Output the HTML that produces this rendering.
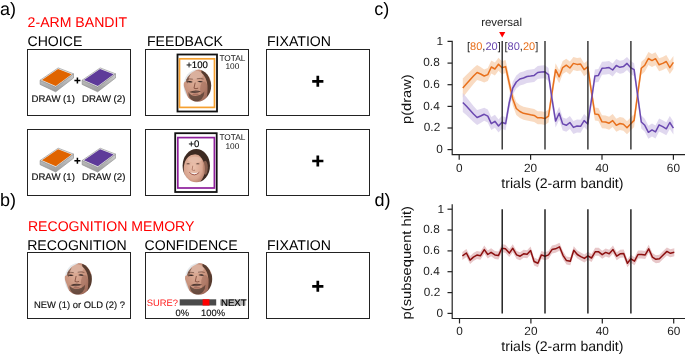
<!DOCTYPE html>
<html><head><meta charset="utf-8"><style>
html,body{margin:0;padding:0;background:#fff;width:685px;height:355px;overflow:hidden}
svg{display:block;will-change:transform}
</style></head><body>
<svg width="685" height="355" viewBox="0 0 685 355" font-family='"Liberation Sans", sans-serif' text-rendering="geometricPrecision">
<defs>
<radialGradient id="skinm" cx="0.5" cy="0.45" r="0.6"><stop offset="0" stop-color="#d9a486"/><stop offset="0.7" stop-color="#b98064"/><stop offset="1" stop-color="#8d5d48"/></radialGradient>
<radialGradient id="skinw" cx="0.5" cy="0.45" r="0.6"><stop offset="0" stop-color="#e8b8a0"/><stop offset="0.8" stop-color="#cf9478"/><stop offset="1" stop-color="#a86d55"/></radialGradient>
<clipPath id="mclip"><ellipse cx="0" cy="0" rx="13.8" ry="16.2"/></clipPath>
<filter id="fb" x="-20%" y="-20%" width="140%" height="140%"><feGaussianBlur stdDeviation="0.75"/></filter>
<radialGradient id="mskin" cx="0.4" cy="0.4" r="0.65"><stop offset="0" stop-color="#dcac96"/><stop offset="0.6" stop-color="#c6907a"/><stop offset="1" stop-color="#946050"/></radialGradient>
<g id="manface"><g clip-path="url(#mclip)"><g filter="url(#fb)">
<rect x="-15" y="-17" width="30" height="34" fill="url(#mskin)"/>
<ellipse cx="-3" cy="-10.5" rx="8.5" ry="4.5" fill="#dcb4a2" opacity="0.85"/>
<path d="M-15,-17 L2,-17 Q-2,-15.2 -6,-12.8 Q-10,-9.5 -11.6,-4 L-15,-2 Z" fill="#e4e7ea"/>
<path d="M-15,-3 Q-11.8,5 -8,16 L-15,17 Z" fill="#dde1e5"/>
<path d="M4,-16 Q11,-13 12.5,-5 L15,-5 L15,17 L8.5,17 Q10.5,8 10,0 Q9.5,-8 4,-13 Z" fill="#563a2e"/>
<path d="M-11.8,-4 Q-10.5,-9 -6.5,-12.2 Q-9,-8 -9.6,-2 Z" fill="#7a5848" opacity="0.8"/>
<ellipse cx="6.5" cy="3.5" rx="3.8" ry="7.5" fill="#9a6656" opacity="0.5"/>
<path d="M-11,-6.2 Q-8,-7.2 -4.6,-6.4 M-0.6,-6.8 Q3,-7.8 6.2,-6.5" stroke="#5a3a30" stroke-width="1" fill="none" opacity="0.6"/>
<path d="M-10.6,-3.8 Q-7.6,-5.3 -4.6,-3.6 Q-7.6,-2.4 -10.6,-3.8 Z" fill="#2e2220"/>
<path d="M-0.2,-4 Q2.8,-5.5 5.6,-3.8 Q2.8,-2.6 -0.2,-4 Z" fill="#2e2220"/>
<path d="M-2.2,-3 L-3.4,2.6 Q-1.5,3.6 0.8,2.6" stroke="#8a5646" stroke-width="1" fill="none"/>
<path d="M-8.2,6.4 Q-2,3.6 3.6,6 Q-2,8.6 -8.2,6.4 Z" fill="#3a2822" opacity="0.85"/>
<path d="M-6,6.4 Q-2,5.4 2,6.2 Q-2,7.2 -6,6.4 Z" fill="#8a6a60"/>
<path d="M-9,6.5 Q-9.5,13.5 -2,16.5 Q6.5,15 7,6 Q3,10.4 -2,10.4 Q-6.5,10.4 -9,6.5 Z" fill="#4e3a30" opacity="0.72"/>
<ellipse cx="-1.8" cy="8.8" rx="3.2" ry="0.9" fill="#a87060"/>
</g></g></g>
<clipPath id="wclip"><ellipse cx="0" cy="0" rx="13.7" ry="16.6"/></clipPath>
<radialGradient id="wskin" cx="0.45" cy="0.42" r="0.6"><stop offset="0" stop-color="#ecc2ae"/><stop offset="0.7" stop-color="#d9a690"/><stop offset="1" stop-color="#b47e6a"/></radialGradient>
<g id="womanface"><g clip-path="url(#wclip)"><g filter="url(#fb)">
<rect x="-15" y="-17" width="30" height="34" fill="#3e2a22"/>
<ellipse cx="-2" cy="3.4" rx="10.6" ry="15" fill="url(#wskin)"/>
<path d="M-13,-2 Q-10,-11 -1,-11.5 Q8,-11.5 11,-4 L12,-17 L-13,-17 Z" fill="#3e2a22"/>
<ellipse cx="-1.5" cy="-6" rx="7" ry="3" fill="#e8c0ae" opacity="0.7"/>
<path d="M-10.2,-1.8 Q-8.2,-3 -6.2,-1.8 Q-8.2,-0.9 -10.2,-1.8 Z" fill="#4a302a"/>
<path d="M-0.5,-1.8 Q1.5,-3 3.5,-1.8 Q1.5,-0.9 -0.5,-1.8 Z" fill="#4a302a"/>
<path d="M-3.5,0 L-4.2,4.2 Q-2.8,5.2 -1.2,4.5" stroke="#b07a68" stroke-width="0.9" fill="none"/>
<path d="M-7,6.6 Q-2,11.5 3,6.6 Q-2,8 -7,6.6 Z" fill="#f6f2f0"/>
<path d="M-7,6.6 Q-2,11.8 3,6.6" stroke="#a0584c" stroke-width="1" fill="none"/>
<ellipse cx="9" cy="2" rx="2.5" ry="7" fill="#b8806a" opacity="0.6"/>
</g></g></g>
<linearGradient id="sidegrad" x1="0" y1="0" x2="0" y2="1"><stop offset="0" stop-color="#cfcfcf"/><stop offset="1" stop-color="#9a9a9a"/></linearGradient>
</defs>
<rect width="685" height="355" fill="#fff"/>
<text x="0" y="15.2" font-size="18">a)</text>
<text x="0" y="205.6" font-size="18">b)</text>
<text x="374.2" y="15" font-size="18">c)</text>
<text x="374.5" y="206" font-size="18">d)</text>
<text x="27.6" y="27.2" font-size="14.1" fill="#ff0000">2-ARM BANDIT</text>
<text x="27.9" y="230.6" font-size="14.1" fill="#ff0000">RECOGNITION MEMORY</text>
<text x="27.5" y="45.8" font-size="14.1">CHOICE</text>
<text x="147" y="45.8" font-size="14.1">FEEDBACK</text>
<text x="267" y="45.8" font-size="14.1">FIXATION</text>
<text x="27.2" y="250.3" font-size="14.1">RECOGNITION</text>
<text x="144.5" y="250.3" font-size="14.1">CONFIDENCE</text>
<text x="267" y="250.3" font-size="14.1">FIXATION</text>
<rect x="27.5" y="49.5" width="103" height="66" fill="none" stroke="#222" stroke-width="1"/>
<rect x="27.5" y="129.5" width="103" height="66" fill="none" stroke="#222" stroke-width="1"/>
<rect x="27.5" y="252.5" width="103" height="66" fill="none" stroke="#222" stroke-width="1"/>
<rect x="145.5" y="49.5" width="103" height="66" fill="none" stroke="#222" stroke-width="1"/>
<rect x="145.5" y="129.5" width="103" height="66" fill="none" stroke="#222" stroke-width="1"/>
<rect x="145.5" y="252.5" width="103" height="66" fill="none" stroke="#222" stroke-width="1"/>
<rect x="266.5" y="49.5" width="103" height="66" fill="none" stroke="#222" stroke-width="1"/>
<rect x="266.5" y="129.5" width="103" height="66" fill="none" stroke="#222" stroke-width="1"/>
<rect x="266.5" y="252.5" width="103" height="66" fill="none" stroke="#222" stroke-width="1"/>
<path d="M312.2,81.3 h11.2 M317.8,75.8 v11" stroke="#000" stroke-width="2.7"/>
<path d="M312.2,161.0 h11.2 M317.8,155.5 v11" stroke="#000" stroke-width="2.7"/>
<path d="M312.2,286.3 h11.2 M317.8,280.8 v11" stroke="#000" stroke-width="2.7"/>
<path d="M40.1,80.2 L55.7,87.10000000000001 L73.5,73.8 L73.5,78.0 L55.7,91.80000000000001 L40.1,84.4 Z" fill="url(#sidegrad)" stroke="#8a8a8a" stroke-width="0.6"/>
<path d="M40.1,80.2 L58.2,67.9 L73.5,73.8 L55.7,87.10000000000001 Z" fill="#ececec" stroke="#8a8a8a" stroke-width="0.6"/>
<path d="M41.95,79.88 L58.05,68.93 L71.67,74.18 L55.83,86.02 Z" fill="#e06400"/>
<path d="M82.1,80.2 L97.69999999999999,87.10000000000001 L115.5,73.8 L115.5,78.0 L97.69999999999999,91.80000000000001 L82.1,84.4 Z" fill="url(#sidegrad)" stroke="#8a8a8a" stroke-width="0.6"/>
<path d="M82.1,80.2 L100.19999999999999,67.9 L115.5,73.8 L97.69999999999999,87.10000000000001 Z" fill="#ececec" stroke="#8a8a8a" stroke-width="0.6"/>
<path d="M83.95,79.88 L100.05,68.93 L113.67,74.18 L97.83,86.02 Z" fill="#5e3b99"/>
<path d="M74.4,80.4 h6 M77.4,77.4 v6" stroke="#000" stroke-width="1.5"/>
<path d="M40.1,160.5 L55.7,167.4 L73.5,154.1 L73.5,158.29999999999998 L55.7,172.1 L40.1,164.7 Z" fill="url(#sidegrad)" stroke="#8a8a8a" stroke-width="0.6"/>
<path d="M40.1,160.5 L58.2,148.2 L73.5,154.1 L55.7,167.4 Z" fill="#ececec" stroke="#8a8a8a" stroke-width="0.6"/>
<path d="M41.95,160.18 L58.05,149.23 L71.67,154.48 L55.83,166.32 Z" fill="#e06400"/>
<path d="M82.1,160.5 L97.69999999999999,167.4 L115.5,154.1 L115.5,158.29999999999998 L97.69999999999999,172.1 L82.1,164.7 Z" fill="url(#sidegrad)" stroke="#8a8a8a" stroke-width="0.6"/>
<path d="M82.1,160.5 L100.19999999999999,148.2 L115.5,154.1 L97.69999999999999,167.4 Z" fill="#ececec" stroke="#8a8a8a" stroke-width="0.6"/>
<path d="M83.95,160.18 L100.05,149.23 L113.67,154.48 L97.83,166.32 Z" fill="#5e3b99"/>
<path d="M74.4,160.7 h6 M77.4,157.7 v6" stroke="#000" stroke-width="1.5"/>
<text x="31.5" y="102" font-size="9.6" fill="#111" stroke="#111" stroke-width="0.18">DRAW (1)</text>
<text x="82" y="102" font-size="9.6" fill="#111" stroke="#111" stroke-width="0.18">DRAW (2)</text>
<text x="31.5" y="180" font-size="9.6" fill="#111" stroke="#111" stroke-width="0.18">DRAW (1)</text>
<text x="82" y="180" font-size="9.6" fill="#111" stroke="#111" stroke-width="0.18">DRAW (2)</text>
<rect x="177.5" y="54.5" width="39.5" height="57" fill="#fff" stroke="#111" stroke-width="1.8"/>
<rect x="179.5" y="58.8" width="35" height="48.6" fill="none" stroke="#f5a030" stroke-width="1.7"/>
<text x="197" y="67.6" font-size="9.6" text-anchor="middle" stroke="#000" stroke-width="0.15">+100</text>
<use href="#manface" transform="translate(197.4,85.6) scale(1.0,1.0)"/>
<rect x="175.2" y="133.2" width="41.5" height="58.8" fill="#fff" stroke="#111" stroke-width="1.8"/>
<rect x="177.8" y="137.6" width="36.6" height="50.4" fill="none" stroke="#8e1f9c" stroke-width="1.7"/>
<text x="194" y="147" font-size="9.6" text-anchor="middle" stroke="#000" stroke-width="0.15">+0</text>
<use href="#womanface" transform="translate(196.3,165.7) scale(1.0,1.0)"/>
<text x="232.4" y="60.6" font-size="8.3" text-anchor="middle" fill="#111">TOTAL</text>
<text x="232.4" y="69.4" font-size="8.3" text-anchor="middle" fill="#111">100</text>
<text x="232.4" y="140.4" font-size="8.3" text-anchor="middle" fill="#111">TOTAL</text>
<text x="232.4" y="149.2" font-size="8.3" text-anchor="middle" fill="#111">100</text>
<use href="#manface" transform="translate(78.3,278.9) scale(0.985,0.98)"/>
<text x="34" y="308.3" font-size="9.42" fill="#111" stroke="#111" stroke-width="0.15">NEW (1) or OLD (2) ?</text>
<use href="#manface" transform="translate(198.6,278.9) scale(0.985,0.98)"/>
<text x="146.8" y="305.6" font-size="9.4" fill="#ff1a1a">SURE?</text>
<rect x="179.7" y="299.3" width="36.5" height="6.2" fill="#4a4a4a"/>
<rect x="202.6" y="299.3" width="6.8" height="6.2" fill="#ff0000"/>
<rect x="220" y="299.3" width="25.6" height="6.2" fill="#b8b8b8"/>
<text x="221" y="305.6" font-size="9.6" fill="#000" stroke="#000" stroke-width="0.2">NEXT</text>
<text x="175.5" y="316" font-size="9.4" fill="#111" stroke="#111" stroke-width="0.15">0%</text>
<text x="201" y="316" font-size="9.4" fill="#111" stroke="#111" stroke-width="0.15">100%</text>
<polygon points="462.8,78.5 466.3,75.0 469.9,71.5 473.5,68.0 477.1,65.0 480.6,67.0 484.2,69.5 487.8,68.1 491.3,60.5 494.9,62.5 498.5,57.7 502.0,61.3 505.6,60.1 509.2,76.5 512.8,92.5 516.3,102.0 519.9,105.0 523.5,106.8 527.0,107.5 530.6,108.3 534.2,108.9 537.7,111.3 541.3,111.3 544.9,112.1 548.5,109.6 552.0,86.5 555.6,63.2 559.2,70.3 562.7,61.1 566.3,58.7 569.9,61.5 573.4,56.9 577.0,57.9 580.6,57.6 584.1,63.2 587.7,60.4 591.3,84.5 594.9,107.5 598.4,107.9 602.0,115.3 605.6,115.5 609.1,116.7 612.7,114.1 616.3,118.8 619.9,117.0 623.4,117.8 627.0,121.2 630.6,117.4 634.1,113.9 637.7,87.5 641.3,61.8 644.8,58.7 648.4,52.0 652.0,54.1 655.5,52.2 659.1,58.3 662.7,56.9 666.3,55.0 669.8,61.1 673.4,55.9 673.4,68.9 669.8,74.1 666.3,68.0 662.7,69.9 659.1,71.3 655.5,65.2 652.0,67.1 648.4,65.0 644.8,71.7 641.3,74.8 637.7,100.5 634.1,126.9 630.6,130.4 627.0,134.2 623.4,130.8 619.9,130.0 616.3,131.8 612.7,127.1 609.1,129.7 605.6,128.5 602.0,128.3 598.4,120.9 594.9,120.5 591.3,97.5 587.7,73.4 584.1,76.2 580.6,70.6 577.0,70.9 573.4,69.9 569.9,74.5 566.3,71.7 562.7,74.1 559.2,83.3 555.6,76.2 552.0,99.5 548.5,122.6 544.9,125.1 541.3,124.3 537.7,124.3 534.2,121.9 530.6,121.3 527.0,120.5 523.5,119.8 519.9,118.0 516.3,115.0 512.8,105.5 509.2,89.5 505.6,73.1 502.0,74.3 498.5,70.7 494.9,75.5 491.3,73.5 487.8,81.1 484.2,82.5 480.6,81.0 477.1,80.0 473.5,84.0 469.9,88.5 466.3,93.0 462.8,97.5" fill="#f7cfae" opacity="0.75"/>
<polygon points="462.8,92.9 466.3,97.0 469.9,101.5 473.5,106.0 477.1,110.0 480.6,109.0 484.2,107.8 487.8,109.6 491.3,117.1 494.9,114.8 498.5,119.5 502.0,115.7 505.6,117.3 509.2,96.5 512.8,81.5 516.3,75.5 519.9,72.5 523.5,71.5 527.0,70.0 530.6,69.5 534.2,68.9 537.7,66.0 541.3,65.5 544.9,65.3 548.5,68.1 552.0,92.5 555.6,114.6 559.2,106.8 562.7,117.4 566.3,118.8 569.9,116.0 573.4,120.9 577.0,119.5 580.6,119.8 584.1,114.1 587.7,117.4 591.3,94.5 594.9,69.6 598.4,68.9 602.0,61.8 605.6,61.5 609.1,61.1 612.7,63.5 616.3,59.0 619.9,60.8 623.4,60.1 627.0,56.9 630.6,61.1 634.1,63.2 637.7,89.5 641.3,115.5 644.8,118.8 648.4,125.8 652.0,123.4 655.5,125.4 659.1,118.4 662.7,120.2 666.3,122.3 669.8,116.0 673.4,121.6 673.4,134.6 669.8,129.0 666.3,135.3 662.7,133.2 659.1,131.4 655.5,138.4 652.0,136.4 648.4,138.8 644.8,131.8 641.3,128.5 637.7,102.5 634.1,76.2 630.6,74.1 627.0,69.9 623.4,73.1 619.9,73.8 616.3,72.0 612.7,76.5 609.1,74.1 605.6,74.5 602.0,74.8 598.4,81.9 594.9,82.6 591.3,107.5 587.7,130.4 584.1,127.1 580.6,132.8 577.0,132.5 573.4,133.9 569.9,129.0 566.3,131.8 562.7,130.4 559.2,119.8 555.6,127.6 552.0,105.5 548.5,81.1 544.9,78.3 541.3,78.5 537.7,79.0 534.2,81.9 530.6,82.5 527.0,83.0 523.5,84.5 519.9,85.5 516.3,88.5 512.8,94.5 509.2,109.5 505.6,130.3 502.0,128.7 498.5,132.5 494.9,127.8 491.3,130.1 487.8,122.6 484.2,120.8 480.6,123.0 477.1,125.0 473.5,122.0 469.9,118.5 466.3,115.0 462.8,111.9" fill="#d6cbea" opacity="0.75"/>
<polyline points="462.8,88.0 466.3,84.0 469.9,80.0 473.5,76.0 477.1,72.5 480.6,74.0 484.2,76.0 487.8,74.6 491.3,67.0 494.9,69.0 498.5,64.2 502.0,67.8 505.6,66.6 509.2,83.0 512.8,99.0 516.3,108.5 519.9,111.5 523.5,113.3 527.0,114.0 530.6,114.8 534.2,115.4 537.7,117.8 541.3,117.8 544.9,118.6 548.5,116.1 552.0,93.0 555.6,69.7 559.2,76.8 562.7,67.6 566.3,65.2 569.9,68.0 573.4,63.4 577.0,64.4 580.6,64.1 584.1,69.7 587.7,66.9 591.3,91.0 594.9,114.0 598.4,114.4 602.0,121.8 605.6,122.0 609.1,123.2 612.7,120.6 616.3,125.3 619.9,123.5 623.4,124.3 627.0,127.7 630.6,123.9 634.1,120.4 637.7,94.0 641.3,68.3 644.8,65.2 648.4,58.5 652.0,60.6 655.5,58.7 659.1,64.8 662.7,63.4 666.3,61.5 669.8,67.6 673.4,62.4" fill="none" stroke="#e8701c" stroke-width="1.5" stroke-linejoin="round"/>
<polyline points="462.8,102.4 466.3,106.0 469.9,110.0 473.5,114.0 477.1,117.5 480.6,116.0 484.2,114.3 487.8,116.1 491.3,123.6 494.9,121.3 498.5,126.0 502.0,122.2 505.6,123.8 509.2,103.0 512.8,88.0 516.3,82.0 519.9,79.0 523.5,78.0 527.0,76.5 530.6,76.0 534.2,75.4 537.7,72.5 541.3,72.0 544.9,71.8 548.5,74.6 552.0,99.0 555.6,121.1 559.2,113.3 562.7,123.9 566.3,125.3 569.9,122.5 573.4,127.4 577.0,126.0 580.6,126.3 584.1,120.6 587.7,123.9 591.3,101.0 594.9,76.1 598.4,75.4 602.0,68.3 605.6,68.0 609.1,67.6 612.7,70.0 616.3,65.5 619.9,67.3 623.4,66.6 627.0,63.4 630.6,67.6 634.1,69.7 637.7,96.0 641.3,122.0 644.8,125.3 648.4,132.3 652.0,129.9 655.5,131.9 659.1,124.9 662.7,126.7 666.3,128.8 669.8,122.5 673.4,128.1" fill="none" stroke="#6a48b0" stroke-width="1.5" stroke-linejoin="round"/>
<line x1="502.2" y1="41" x2="502.2" y2="149.6" stroke="#262626" stroke-width="1.35"/>
<line x1="545" y1="41" x2="545" y2="149.6" stroke="#262626" stroke-width="1.35"/>
<line x1="587.9" y1="41" x2="587.9" y2="149.6" stroke="#262626" stroke-width="1.35"/>
<line x1="630.9" y1="41" x2="630.9" y2="149.6" stroke="#262626" stroke-width="1.35"/>
<path d="M447.5,41.4 H452.2 V154.6 H685" fill="none" stroke="#222" stroke-width="1.2"/>
<line x1="447.5" y1="63.1" x2="452.2" y2="63.1" stroke="#222" stroke-width="1.2"/>
<line x1="447.5" y1="84.7" x2="452.2" y2="84.7" stroke="#222" stroke-width="1.2"/>
<line x1="447.5" y1="106.4" x2="452.2" y2="106.4" stroke="#222" stroke-width="1.2"/>
<line x1="447.5" y1="128.0" x2="452.2" y2="128.0" stroke="#222" stroke-width="1.2"/>
<line x1="447.5" y1="149.6" x2="452.2" y2="149.6" stroke="#222" stroke-width="1.2"/>
<line x1="459.2" y1="154.6" x2="459.2" y2="159.7" stroke="#222" stroke-width="1.2"/>
<text x="459.2" y="172.4" font-size="11.8" text-anchor="middle" fill="#222">0</text>
<line x1="530.6" y1="154.6" x2="530.6" y2="159.7" stroke="#222" stroke-width="1.2"/>
<text x="530.6" y="172.4" font-size="11.8" text-anchor="middle" fill="#222">20</text>
<line x1="602.0" y1="154.6" x2="602.0" y2="159.7" stroke="#222" stroke-width="1.2"/>
<text x="602.0" y="172.4" font-size="11.8" text-anchor="middle" fill="#222">40</text>
<line x1="673.4" y1="154.6" x2="673.4" y2="159.7" stroke="#222" stroke-width="1.2"/>
<text x="673.4" y="172.4" font-size="11.8" text-anchor="middle" fill="#222">60</text>
<text x="436.5" y="44.8" font-size="11.8" fill="#222">1</text>
<text x="423.3" y="66.4" font-size="11.8" fill="#222">0.8</text>
<text x="423.3" y="88.0" font-size="11.8" fill="#222">0.6</text>
<text x="423.3" y="109.7" font-size="11.8" fill="#222">0.4</text>
<text x="423.8" y="131.3" font-size="11.8" fill="#222">0.2</text>
<text x="436.3" y="152.9" font-size="11.8" fill="#222">0</text>
<text x="562.4" y="188.4" font-size="14.1" text-anchor="middle" fill="#111">trials (2-arm bandit)</text>
<text transform="translate(410.6,99.15) rotate(-90) scale(1,0.9)" font-size="14.6" text-anchor="middle" fill="#111">p(draw)</text>
<text x="501.6" y="26" font-size="11.5" text-anchor="middle" fill="#222">reversal</text>
<path d="M499.1,31.9 L505.3,31.9 L502.2,37.4 Z" fill="#ff0000"/>
<text x="467" y="49.5" font-size="11" fill="#222">[<tspan fill="#e8701c">80</tspan>,<tspan fill="#6a48b0">20</tspan>]</text>
<text x="504.5" y="49.5" font-size="11" fill="#222">[<tspan fill="#6a48b0">80</tspan>,<tspan fill="#e8701c">20</tspan>]</text>
<polygon points="462.4,251.9 466.4,249.0 470.1,256.1 473.4,253.1 476.9,251.1 480.4,251.8 484.3,245.6 487.8,250.5 491.1,248.3 494.9,250.9 498.4,251.6 501.9,244.3 505.4,244.8 509.3,249.1 512.8,244.3 516.6,250.9 520.1,252.2 523.6,249.8 527.1,250.2 530.6,246.5 534.1,257.5 537.9,259.2 541.4,250.9 545.0,252.2 548.5,250.9 552.0,245.6 555.5,244.8 559.5,242.8 563.0,251.3 566.5,256.6 570.3,257.2 573.8,246.3 577.3,250.5 580.8,252.6 584.4,254.4 587.9,251.8 591.5,254.0 595.2,247.8 598.7,247.8 602.2,250.7 605.7,248.4 609.2,249.8 613.0,245.6 616.7,252.2 620.2,249.8 623.7,249.6 627.4,259.2 630.9,254.8 634.5,257.2 638.0,250.5 641.5,250.5 645.2,250.9 648.7,244.8 652.4,253.1 655.9,255.3 659.4,254.8 662.9,251.3 666.9,247.4 670.4,249.3 674.3,248.3 674.3,256.3 670.4,257.3 666.9,255.4 662.9,259.3 659.4,262.8 655.9,263.3 652.4,261.1 648.7,252.8 645.2,258.9 641.5,258.5 638.0,258.5 634.5,265.2 630.9,262.8 627.4,267.2 623.7,257.6 620.2,257.8 616.7,260.2 613.0,253.6 609.2,257.8 605.7,256.4 602.2,258.7 598.7,255.8 595.2,255.8 591.5,262.0 587.9,259.8 584.4,262.4 580.8,260.6 577.3,258.5 573.8,254.3 570.3,265.2 566.5,264.6 563.0,259.3 559.5,250.8 555.5,252.8 552.0,253.6 548.5,258.9 545.0,260.2 541.4,258.9 537.9,267.2 534.1,265.5 530.6,254.5 527.1,258.2 523.6,257.8 520.1,260.2 516.6,258.9 512.8,252.3 509.3,257.1 505.4,252.8 501.9,252.3 498.4,259.6 494.9,258.9 491.1,256.3 487.8,258.5 484.3,253.6 480.4,259.8 476.9,259.1 473.4,261.1 470.1,264.1 466.4,257.0 462.4,259.9" fill="#e6c1c3" opacity="0.9"/>
<polyline points="462.4,255.9 466.4,253.0 470.1,260.1 473.4,257.1 476.9,255.1 480.4,255.8 484.3,249.6 487.8,254.5 491.1,252.3 494.9,254.9 498.4,255.6 501.9,248.3 505.4,248.8 509.3,253.1 512.8,248.3 516.6,254.9 520.1,256.2 523.6,253.8 527.1,254.2 530.6,250.5 534.1,261.5 537.9,263.2 541.4,254.9 545.0,256.2 548.5,254.9 552.0,249.6 555.5,248.8 559.5,246.8 563.0,255.3 566.5,260.6 570.3,261.2 573.8,250.3 577.3,254.5 580.8,256.6 584.4,258.4 587.9,255.8 591.5,258.0 595.2,251.8 598.7,251.8 602.2,254.7 605.7,252.4 609.2,253.8 613.0,249.6 616.7,256.2 620.2,253.8 623.7,253.6 627.4,263.2 630.9,258.8 634.5,261.2 638.0,254.5 641.5,254.5 645.2,254.9 648.7,248.8 652.4,257.1 655.9,259.3 659.4,258.8 662.9,255.3 666.9,251.4 670.4,253.3 674.3,252.3" fill="none" stroke="#8c1010" stroke-width="1.5" stroke-linejoin="round"/>
<line x1="502.2" y1="209.2" x2="502.2" y2="313.4" stroke="#141414" stroke-width="1.4"/>
<line x1="545" y1="209.2" x2="545" y2="313.4" stroke="#141414" stroke-width="1.4"/>
<line x1="587.9" y1="209.2" x2="587.9" y2="313.4" stroke="#141414" stroke-width="1.4"/>
<line x1="630.9" y1="209.2" x2="630.9" y2="313.4" stroke="#141414" stroke-width="1.4"/>
<path d="M452.2,204.2 V318.5 H685" fill="none" stroke="#222" stroke-width="1.2"/>
<line x1="447.5" y1="209.2" x2="452.2" y2="209.2" stroke="#222" stroke-width="1.2"/>
<line x1="447.5" y1="230.0" x2="452.2" y2="230.0" stroke="#222" stroke-width="1.2"/>
<line x1="447.5" y1="250.9" x2="452.2" y2="250.9" stroke="#222" stroke-width="1.2"/>
<line x1="447.5" y1="271.7" x2="452.2" y2="271.7" stroke="#222" stroke-width="1.2"/>
<line x1="447.5" y1="292.6" x2="452.2" y2="292.6" stroke="#222" stroke-width="1.2"/>
<line x1="447.5" y1="313.4" x2="452.2" y2="313.4" stroke="#222" stroke-width="1.2"/>
<line x1="459.5" y1="318.5" x2="459.5" y2="323.4" stroke="#222" stroke-width="1.2"/>
<text x="459.5" y="334.5" font-size="11.8" text-anchor="middle" fill="#222">0</text>
<line x1="530.9" y1="318.5" x2="530.9" y2="323.4" stroke="#222" stroke-width="1.2"/>
<text x="530.9" y="334.5" font-size="11.8" text-anchor="middle" fill="#222">20</text>
<line x1="602.3" y1="318.5" x2="602.3" y2="323.4" stroke="#222" stroke-width="1.2"/>
<text x="602.3" y="334.5" font-size="11.8" text-anchor="middle" fill="#222">40</text>
<line x1="673.7" y1="318.5" x2="673.7" y2="323.4" stroke="#222" stroke-width="1.2"/>
<text x="673.7" y="334.5" font-size="11.8" text-anchor="middle" fill="#222">60</text>
<text x="437.5" y="212.5" font-size="11.8" fill="#222">1</text>
<text x="423.3" y="233.3" font-size="11.8" fill="#222">0.8</text>
<text x="423.3" y="254.2" font-size="11.8" fill="#222">0.6</text>
<text x="423.3" y="275.0" font-size="11.8" fill="#222">0.4</text>
<text x="423.8" y="295.9" font-size="11.8" fill="#222">0.2</text>
<text x="436.5" y="316.7" font-size="11.8" fill="#222">0</text>
<text x="562.4" y="351.1" font-size="14.1" text-anchor="middle" fill="#111">trials (2-arm bandit)</text>
<text transform="translate(410.6,262.75) rotate(-90) scale(1,0.9)" font-size="14.66" text-anchor="middle" fill="#111">p(subsequent hit)</text>
</svg>
</body></html>
